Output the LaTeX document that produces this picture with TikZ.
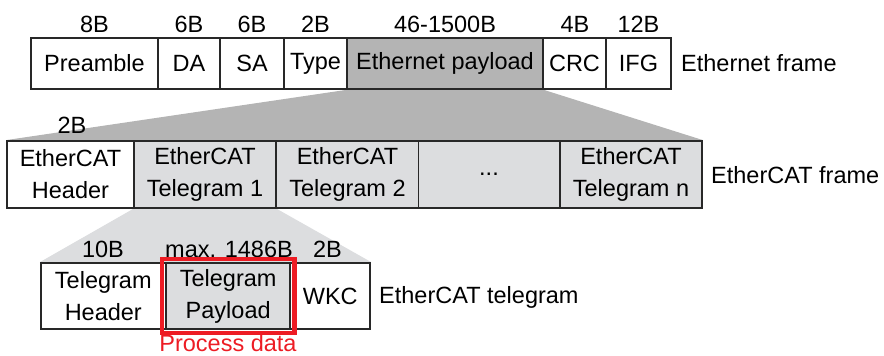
\documentclass[tikz,border=0pt]{standalone}
\usepackage{fontspec}
\setmainfont{Liberation Sans}
\usepackage{xcolor}
\usetikzlibrary{backgrounds, fit}

\definecolor{framegray}{RGB}{180,180,180}
\definecolor{telegray}{RGB}{220,221,223}
\definecolor{boxline}{RGB}{40,40,40}
\definecolor{procred}{RGB}{237,28,36}

\tikzset{
	field/.style={draw=boxline, line width=1.8pt, inner sep=0pt, align=center, fill=white},
	bytes/.style={inner sep=0pt}
}

\begin{document}
\begin{tikzpicture}[x=1pt, y=-1pt, font=\fontsize{23.5}{32}\selectfont]
	\useasboundingbox (0,0) rectangle (884,356);

	% Ethernet frame
	\node[field, minimum width=127, minimum height=51] (pre) at (94.5, 63.5) {Preamble};
	\node[field, minimum width=62, minimum height=51] (da) at (189, 63.5) {DA};
	\node[field, minimum width=64, minimum height=51] (sa) at (252, 63.5) {SA};
	\node[field, minimum width=63, minimum height=51] (type) at (315.5, 63.5) {Type};
	\node[field, minimum width=196, minimum height=51, fill=framegray] (pay) at (445, 63.5) {Ethernet payload};
	\node[field, minimum width=63, minimum height=51] (crc) at (574.5, 63.5) {CRC};
	\node[field, minimum width=65, minimum height=51] (ifg) at (638.5, 63.5) {IFG};
	\node[anchor=west, inner sep=0pt] (ethname) at (681, 63.5) {Ethernet frame};

	% sizes above the Ethernet frame
	\node[bytes] (bpre) at (94.5, 24) {8B};
	\node[bytes] (bda) at (189, 24) {6B};
	\node[bytes] (bsa) at (252, 24) {6B};
	\node[bytes] (btype) at (315.5, 24) {2B};
	\node[bytes] (bpay) at (445, 24) {46-1500B};
	\node[bytes] (bcrc) at (575, 24) {4B};
	\node[bytes] (bifg) at (638.5, 24) {12B};

	% EtherCAT frame
	\node[field, minimum width=127, minimum height=67] (ech) at (70.5, 174.5) {EtherCAT\\Header};
	\node[field, minimum width=142, minimum height=67, fill=telegray] (et1) at (205, 174.5) {EtherCAT\\Telegram 1};
	\node[field, minimum width=143, minimum height=67, fill=telegray] (et2) at (347.5, 174.5) {EtherCAT\\Telegram 2};
	\node[field, minimum width=141, minimum height=67, fill=telegray] (edots) at (489, 174.5) {...};
	\node[field, minimum width=142, minimum height=67, fill=telegray] (etn) at (631, 174.5) {EtherCAT\\Telegram n};
	\node[anchor=west, inner sep=0pt] (ecatname) at (711, 175) {EtherCAT frame};
	\node[bytes] (bech) at (72, 125.5) {2B};

	% EtherCAT telegram
	\node[field, minimum width=125, minimum height=66] (th) at (103.3, 296) {Telegram\\Header};
	\node[field, minimum width=125, minimum height=66, fill=telegray] (tp) at (228.2, 296) {Telegram\\Payload};
	\node[field, minimum width=80, minimum height=66] (wkc) at (330.3, 296) {WKC};
	\node[anchor=west, inner sep=0pt] (telname) at (379, 297) {EtherCAT telegram};

	% sizes above the telegram
	\node[bytes] (bth) at (103, 249) {10B};
	\node[bytes] (btp) at (229, 249) {max. 1486B};
	\node[bytes] (bwkc) at (327.5, 249) {2B};

	% process data marker
	\node[draw=procred, line width=4.5pt, inner sep=3pt, fit=(tp)] (hl) {};
	\node[text=procred, inner sep=0pt] (pd) at (228, 343) {Process data};

	% zoom fans behind the boxes
	\begin{pgfonlayer}{background}
		\fill[framegray] (pay.south west) -- (pay.south east) -- (etn.north east) -- (ech.north west) -- cycle;
		\fill[telegray] (et1.south west) -- (et1.south east) -- (wkc.north east) -- (th.north west) -- cycle;
	\end{pgfonlayer}
\end{tikzpicture}
\end{document}
